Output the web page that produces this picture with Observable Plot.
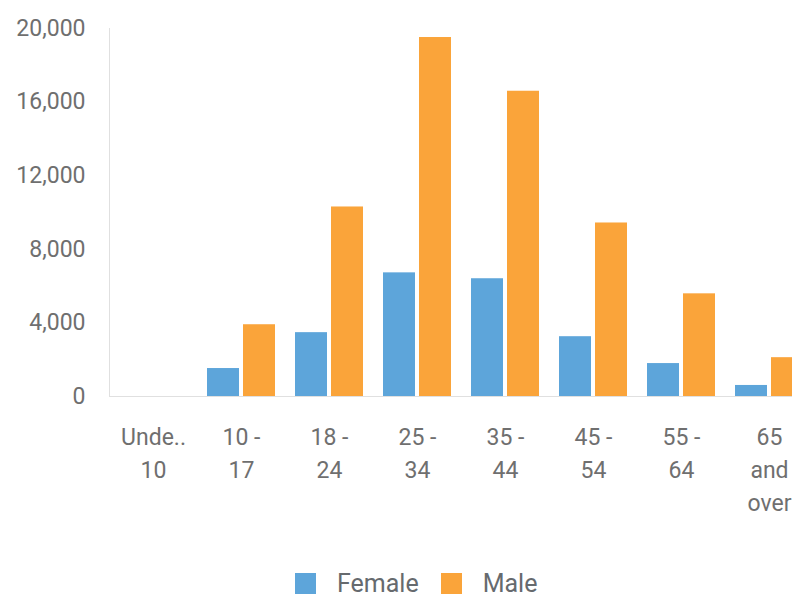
<!DOCTYPE html>
<html><head><meta charset="utf-8">
<script src="https://cdn.jsdelivr.net/npm/d3@7"></script>
<script src="https://cdn.jsdelivr.net/npm/@observablehq/plot@0.6"></script>
<style>
html,body{margin:0;padding:0;background:#fff;}
body{width:792px;height:606px;overflow:hidden;position:relative;font-family:Roboto,sans-serif;}
#chart svg{max-width:none;display:block;}
.legend{position:absolute;top:572px;left:295px;display:flex;align-items:center;font-size:25px;color:#666a6e;height:22px;}
.legend .sw{width:21px;height:21px;display:inline-block;}
</style>
</head><body>
<div id="chart"></div>
<div class="legend" id="legend"></div>
<script>
const ageGroups = ["Under 10","10 - 17","18 - 24","25 - 34","35 - 44","45 - 54","55 - 64","65 and over"];
const tickLabels = ["Unde..\n10","10 -\n17","18 -\n24","25 -\n34","35 -\n44","45 -\n54","55 -\n64","65\nand\nover"];
const female = [0,1520,3470,6720,6400,3250,1790,600];
const male = [0,3900,10300,19510,16590,9430,5580,2110];
const yTicks = [0,4000,8000,12000,16000,20000];
const seriesNames = ["Female","Male"];
const seriesColors = ["#5DA5DA","#FAA43A"];

const femaleData = ageGroups.map((g,i)=>({group:g, sex:"Female", value:female[i]}));
const maleData = ageGroups.map((g,i)=>({group:g, sex:"Male", value:male[i]}));

const chart = Plot.plot({
  width: 813, height: 520,
  marginLeft: 109, marginRight: 0, marginTop: 28, marginBottom: 124,
  style: {fontFamily: "Roboto, sans-serif", fontSize: "23px", background: "transparent"},
  x: {domain: ageGroups, padding: 0, label: null},
  y: {domain: [0, 20000], label: null},
  color: {domain: seriesNames, range: seriesColors},
  marks: [
    Plot.frame({anchor: "left", stroke: "#e0e0e0", strokeOpacity: 1}),
    Plot.ruleY([0], {stroke: "#e0e0e0"}),
    Plot.barY(femaleData, {x: "group", y: "value", fill: "sex", insetLeft: 10, insetRight: 46}),
    Plot.barY(maleData, {x: "group", y: "value", fill: "sex", insetLeft: 46, insetRight: 10}),
    Plot.axisY({ticks: yTicks, tickSize: 0, tickPadding: 24, tickFormat: d3.format(","), fill: "#6f6f6f", label: null}),
    Plot.axisX({tickSize: 0, tickPadding: 25, lineHeight: 1.43, tickFormat: d => tickLabels[ageGroups.indexOf(d)], fill: "#6f6f6f", label: null})
  ]
});
document.getElementById("chart").appendChild(chart);

const legend = document.getElementById("legend");
seriesNames.forEach((name, i) => {
  const sw = document.createElement("span");
  sw.className = "sw";
  sw.style.background = seriesColors[i];
  sw.style.marginRight = "21px";
  const t = document.createElement("span");
  t.textContent = name;
  t.style.marginRight = i === 0 ? "22px" : "0";
  legend.appendChild(sw);
  legend.appendChild(t);
});
</script>
</body></html>
